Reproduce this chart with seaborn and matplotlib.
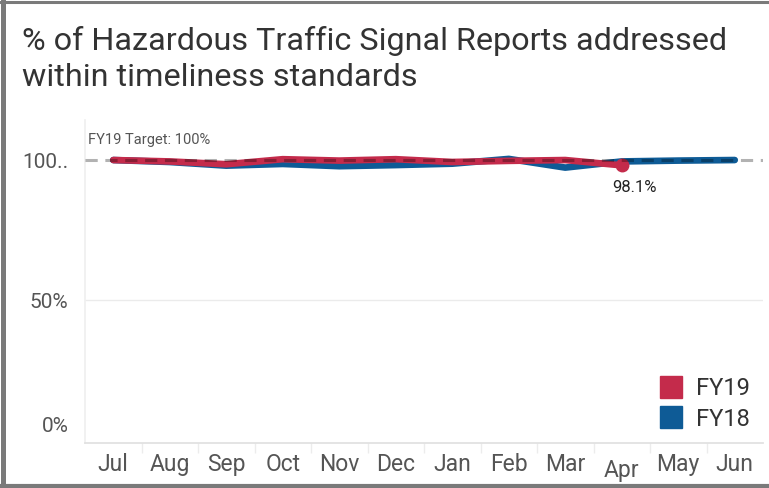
import matplotlib
matplotlib.use("Agg")
import matplotlib.pyplot as plt
import pandas as pd
import seaborn as sns

months = ["Jul", "Aug", "Sep", "Oct", "Nov", "Dec", "Jan", "Feb", "Mar", "Apr", "May", "Jun"]
fy18 = [100.0, 99.3, 98.0, 98.6, 97.8, 98.2, 98.7, 100.4, 97.3, 99.5, 99.8, 100.0]
fy19 = [100.0, 99.5, 98.5, 100.3, 99.8, 100.3, 99.3, 99.7, 100.0, 98.1]
target = 100.0
yticks = [0, 50, 100]
ytick_labels = ["0%", "50%", "100.."]

colors = {"FY19": "#C42B4B", "FY18": "#0E5B96"}

df = pd.concat([
    pd.DataFrame({"month": months, "pos": range(len(months)), "pct": fy18, "year": "FY18"}),
    pd.DataFrame({"month": months[:len(fy19)], "pos": range(len(fy19)), "pct": fy19, "year": "FY19"}),
])

sns.set_theme(style="white")
plt.rcParams["font.family"] = ["Roboto", "DejaVu Sans"]

fig = plt.figure(figsize=(7.69, 4.88), dpi=100)
ax = fig.add_axes([85 / 769, 45 / 488, 678 / 769, 323 / 488])

sns.lineplot(data=df, x="pos", y="pct", hue="year", hue_order=["FY18", "FY19"],
             palette=colors, linewidth=4.8, ax=ax, legend=False,
             solid_capstyle="round", solid_joinstyle="round")

# end-of-series marker for the current year
last = len(fy19) - 1
ax.plot([last], [fy19[last]], "o", color=colors["FY19"], markersize=9, zorder=5)
ax.annotate(f"{fy19[last]:.1f}%", (last, fy19[last]), xytext=(9.5, -16),
            textcoords="offset points", ha="center", va="center",
            fontsize=12, color="#222222")

# target reference line drawn over the series
ax.axhline(target, color="black", alpha=0.3, linestyle=(0, (4, 2.5)), linewidth=2.2, zorder=6)
ax.text(-0.45, target + 7.3, "FY19 Target: 100%", fontsize=10.5, color="#555555", va="center")

ax.axhline(50, color="#ebebeb", linewidth=1, zorder=0)

ax.set_xlim(-0.5, len(months) - 0.5)
ax.set_ylim(-1.07, 114.3)
ax.set_xticks(range(len(months)))
ax.set_xticklabels(months, fontsize=16.5, color="#555555")
for lab in ax.get_xticklabels():
    if lab.get_text() == "Apr":
        lab.set_y(-0.02)
ax.set_xticks([i + 0.5 for i in range(len(months) - 1)], minor=True)
ax.tick_params(axis="x", which="major", length=0, pad=7)
ax.tick_params(axis="x", which="minor", length=7, color="#ececec", width=1, bottom=True)
ax.set_yticks(yticks)
ax.set_yticklabels(["", ytick_labels[1], ytick_labels[2]], fontsize=15, color="#555555")
ax.tick_params(axis="y", length=8, color="#ebebeb", pad=4)
# bottom label sits a little above its gridline
ax.annotate(ytick_labels[0], (0, yticks[0]), xycoords=("axes fraction", "data"),
            xytext=(-12, 9.5), textcoords="offset points", ha="right", va="center",
            fontsize=15, color="#555555")
ax.set_xlabel("")
ax.set_ylabel("")

for side in ["top", "right"]:
    ax.spines[side].set_visible(False)
ax.spines["left"].set_color("#f0f0f0")
ax.spines["bottom"].set_color("#e0e0e0")
ax.spines["bottom"].set_linestyle((0, (1, 1)))

# legend
handles = [plt.Line2D([], [], marker="s", linestyle="", markersize=16,
                      color=colors[k]) for k in ["FY19", "FY18"]]
fig.legend(handles, ["FY19", "FY18"], loc="upper left", bbox_to_anchor=(638 / 769, 1 - 368 / 488),
           frameon=False, fontsize=17, handletextpad=0.05, labelspacing=0.3,
           labelcolor="#333333", borderaxespad=0)

fig.text(22 / 769, 1 - 59 / 488, "% of Hazardous Traffic Signal Reports addressed\nwithin timeliness standards",
         fontsize=23.3, color="#333333", va="center", ha="left", linespacing=1.3)

# outer frame
fig.add_artist(plt.Line2D([2.5 / 769, 2.5 / 769], [0, 1], transform=fig.transFigure, color="#7a7a7a", linewidth=3.6))
fig.add_artist(plt.Line2D([0, 1], [1 - 1.5 / 488, 1 - 1.5 / 488], transform=fig.transFigure, color="#7a7a7a", linewidth=2.2))
fig.add_artist(plt.Line2D([0, 1], [2 / 488, 2 / 488], transform=fig.transFigure, color="#7a7a7a", linewidth=3))

fig.savefig("out.png", dpi=100, facecolor="white")
